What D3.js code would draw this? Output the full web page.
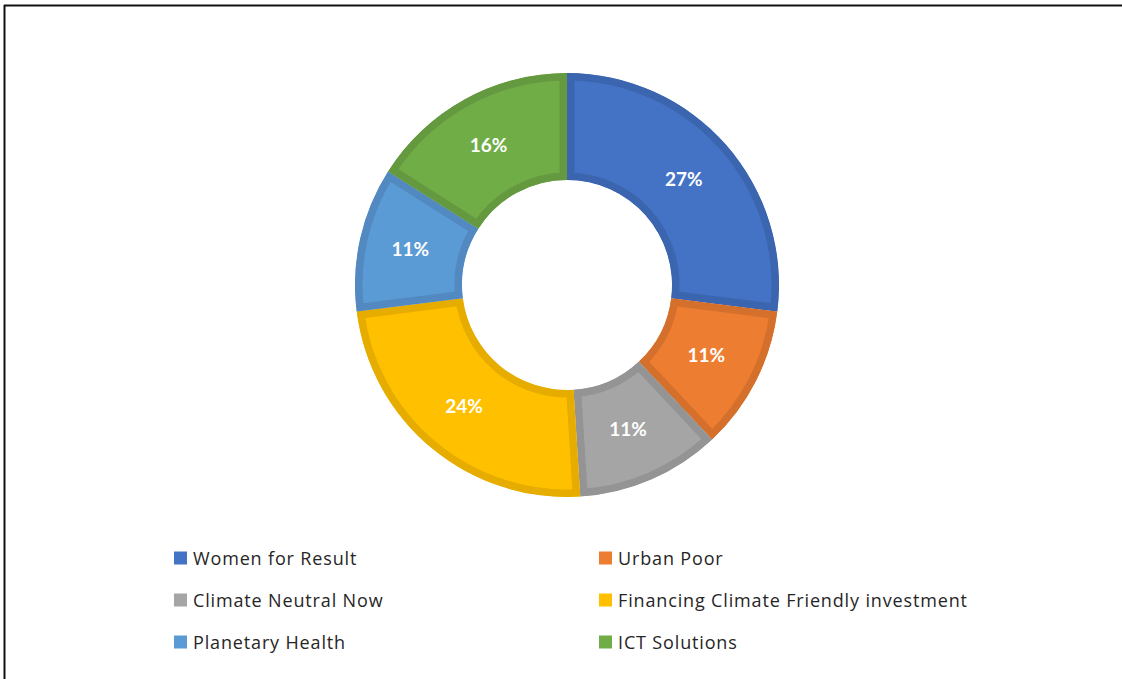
<!DOCTYPE html>
<html>
<head>
<meta charset="utf-8">
<script src="https://cdn.jsdelivr.net/npm/d3@7"></script>
<style>
  html, body { margin: 0; padding: 0; background: #fff; }
  svg { display: block; }
</style>
</head>
<body>
<svg id="chart" width="1122" height="679"></svg>
<script>
// Share of programme areas (percent)
const categories = [
  "Women for Result",
  "Urban Poor",
  "Climate Neutral Now",
  "Financing Climate Friendly investment",
  "Planetary Health",
  "ICT Solutions"
];
const values = [27, 11, 11, 24, 11, 16];
const fillColors   = ["#4472c4", "#ed7d31", "#a5a5a5", "#ffc000", "#5b9bd5", "#70ad47"];
const strokeColors = ["#3c65b0", "#d4702c", "#949494", "#e6ac00", "#5189c0", "#64993f"];

const svg = d3.select("#chart");
const W = 1122, H = 679;

// Frame lines along the top and left
svg.append("line").attr("x1", 4).attr("y1", 5.5).attr("x2", W).attr("y2", 5.5)
  .attr("stroke", "#111").attr("stroke-width", 2);
svg.append("line").attr("x1", 4.5).attr("y1", 5).attr("x2", 4.5).attr("y2", H)
  .attr("stroke", "#111").attr("stroke-width", 2);

const cx = 567, cy = 285;
const outerR = 212, innerR = 105;

const data = categories.map((c, i) => ({ name: c, value: values[i], i }));
const pie = d3.pie().value(d => d.value).sort(null);
const arc = d3.arc().innerRadius(innerR).outerRadius(outerR);
const labelArc = d3.arc().innerRadius((innerR + outerR) / 2).outerRadius((innerR + outerR) / 2);

const g = svg.append("g").attr("transform", `translate(${cx},${cy})`);
const defs = svg.append("defs");
const arcs = pie(data);

arcs.forEach((a, k) => {
  defs.append("clipPath").attr("id", "slice-clip-" + k)
    .append("path").attr("d", arc(a));
});

// Slices with a darker inner edge
g.selectAll("path.slice")
  .data(arcs)
  .join("path")
  .attr("class", "slice")
  .attr("d", arc)
  .attr("fill", d => fillColors[d.data.i])
  .attr("stroke", d => strokeColors[d.data.i])
  .attr("stroke-width", 15)
  .attr("stroke-linejoin", "miter")
  .attr("clip-path", (d, k) => `url(#slice-clip-${k})`);

// Percentage labels
g.selectAll("text.pct")
  .data(arcs)
  .join("text")
  .attr("class", "pct")
  .attr("transform", d => `translate(${labelArc.centroid(d)})`)
  .attr("dx", -2).attr("dy", -2)
  .attr("text-anchor", "middle")
  .attr("dominant-baseline", "central")
  .attr("font-family", "Lato, 'Open Sans', sans-serif")
  .attr("font-weight", "bold")
  .attr("font-size", 19)
  .attr("fill", "#fff")
  .text(d => d.data.value + "%");

// Legend in two columns
const legendX = [174, 599];
const legendY = [558, 600, 642];
const legend = svg.append("g");
data.forEach((d, i) => {
  const col = i % 2, row = Math.floor(i / 2);
  const x = legendX[col], y = legendY[row];
  legend.append("rect")
    .attr("x", x).attr("y", y - 6.5)
    .attr("width", 13).attr("height", 13)
    .attr("fill", fillColors[i]);
  legend.append("text")
    .attr("x", x + 19).attr("y", y)
    .attr("dominant-baseline", "central")
    .attr("font-family", "'Open Sans', sans-serif")
    .attr("font-size", 18)
    .attr("letter-spacing", 0.85)
    .attr("fill", "#262626")
    .text(d.name);
});
</script>
</body>
</html>
